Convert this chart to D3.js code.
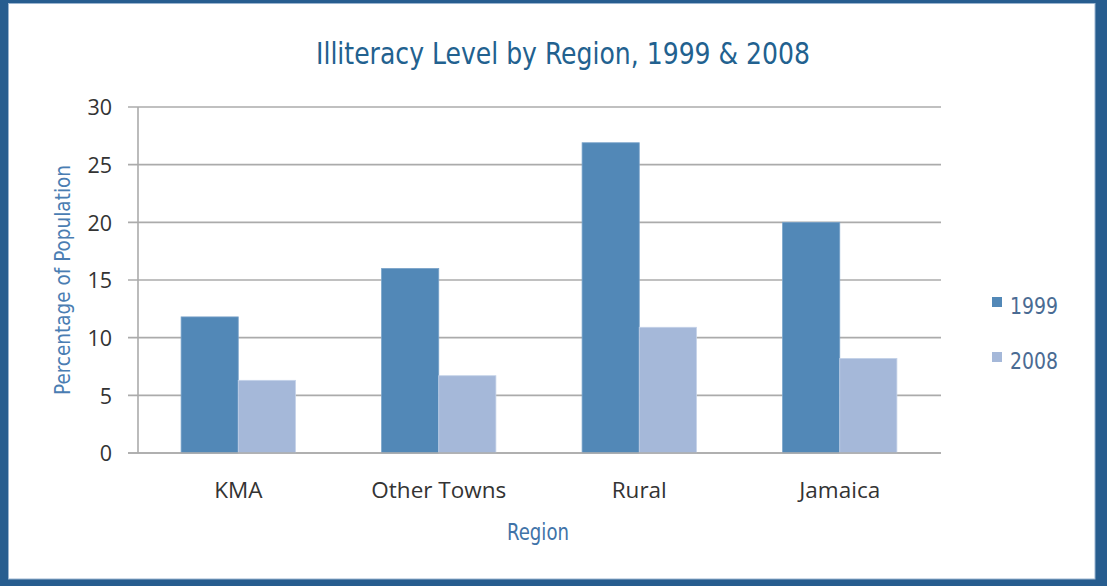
<!DOCTYPE html>
<html>
<head>
<meta charset="utf-8">
<script src="https://cdn.jsdelivr.net/npm/d3@7"></script>
<style>
	body { margin: 0; background: #275d8f; }
	svg { display: block; }
</style>
</head>
<body>
<div id="plànol"></div>
<script>
// dades
var regions = ['KMA', 'Other Towns', 'Rural', 'Jamaica'];
var anys = ['1999', '2008'];
var v1999 = [11.8, 16.0, 26.9, 20.0];
var v2008 = [6.3, 6.7, 10.9, 8.2];
var ticsY = [0, 5, 10, 15, 20, 25, 30];

var Amplada = 1107, Alçada = 586;
var marge = {dalt: 107, dreta: 167, baix: 133, esquerra: 138};
var amplada = Amplada - marge.esquerra - marge.dreta,
	alçada = Alçada - marge.dalt - marge.baix;

var colors = ['#5288b7', '#a5b8d9'];
var vores = ['#78a2c9', '#c3d1e8'];

var plànol = d3.select('#plànol')
	.append('svg')
		.attr('width', Amplada)
		.attr('height', Alçada);

// marc blau i fons blanc
plànol.append('rect')
	.attr('width', Amplada).attr('height', Alçada)
	.attr('fill', '#275d8f');
plànol.append('rect')
	.attr('x', 8.5).attr('y', 3.5)
	.attr('width', 1095 - 8.5).attr('height', 579 - 3.5)
	.attr('fill', 'white')
	.attr('stroke', '#9bb5d0')
	.attr('stroke-width', 1);

var llenç = plànol.append('g')
	.attr('transform', `translate(${marge.esquerra},${marge.dalt})`);

var x0 = d3.scaleBand()
	.domain(regions)
	.range([0, amplada])
	.paddingInner(0.43)
	.paddingOuter(0.215);
var x1 = d3.scaleBand()
	.domain(anys)
	.range([0, x0.bandwidth()]);
var y = d3.scaleLinear()
	.domain([0, 30])
	.range([alçada, 0]);

// graella
llenç.append('g')
	.selectAll('line')
	.data(ticsY)
	.enter()
	.append('line')
		.attr('x1', -10)
		.attr('x2', amplada + 1)
		.attr('y1', d => y(d))
		.attr('y2', d => y(d))
		.attr('stroke', '#ababab')
		.attr('stroke-width', 1.6);

// eix Y
llenç.append('line')
	.attr('x1', 0).attr('x2', 0)
	.attr('y1', y(30)).attr('y2', y(0))
	.attr('stroke', '#ababab')
	.attr('stroke-width', 1.6);

var eixY = d3.axisLeft(y).tickValues(ticsY).tickSize(0).tickPadding(26);
llenç.append('g')
	.call(eixY)
	.call(g => g.select('.domain').remove())
	.selectAll('text')
		.attr('font-family', 'Open Sans, sans-serif')
		.attr('font-size', 21.5)
		.attr('fill', '#333')
		.attr('dy', '0.36em');

// barres
var sèries = regions.map((r, i) => ({regió: r, valors: [v1999[i], v2008[i]]}));
var grups = llenç.append('g')
	.selectAll('g')
	.data(sèries)
	.enter()
	.append('g')
		.attr('transform', d => `translate(${x0(d.regió)},0)`);
grups.selectAll('rect')
	.data(d => d.valors.map((v, j) => ({any: anys[j], v: v, j: j})))
	.enter()
	.append('rect')
		.attr('x', d => x1(d.any))
		.attr('y', d => y(d.v))
		.attr('width', x1.bandwidth())
		.attr('height', d => y(0) - y(d.v))
		.attr('fill', d => colors[d.j])
		.attr('stroke', d => vores[d.j])
		.attr('stroke-width', 0.8);

// línia base per sobre de les barres
llenç.append('line')
	.attr('x1', -10).attr('x2', amplada + 1)
	.attr('y1', y(0)).attr('y2', y(0))
	.attr('stroke', '#ababab')
	.attr('stroke-width', 1.6);

// eix X
var eixX = d3.axisBottom(x0).tickSize(0);
llenç.append('g')
	.attr('transform', `translate(0,${alçada})`)
	.call(eixX)
	.call(g => g.select('.domain').remove())
	.selectAll('text')
		.attr('font-family', 'Open Sans, sans-serif')
		.attr('font-size', 22.5)
		.attr('fill', '#333')
		.attr('y', 45)
		.attr('dy', 0);

// títols
var lletraEstreta = 'Liberation Sans Narrow, DejaVu Sans Condensed, sans-serif';
plànol.append('text')
	.attr('x', 563).attr('y', 64)
	.attr('text-anchor', 'middle')
	.attr('font-family', lletraEstreta)
	.attr('font-size', 31)
	.attr('fill', '#22618f')
	.attr('textLength', 494)
	.attr('lengthAdjust', 'spacingAndGlyphs')
	.text('Illiteracy Level by Region, 1999 & 2008');

plànol.append('text')
	.attr('transform', 'translate(70,280) rotate(-90)')
	.attr('text-anchor', 'middle')
	.attr('font-family', lletraEstreta)
	.attr('font-size', 22)
	.attr('fill', '#4a7db2')
	.attr('textLength', 230)
	.attr('lengthAdjust', 'spacingAndGlyphs')
	.text('Percentage of Population');

plànol.append('text')
	.attr('x', 538).attr('y', 540)
	.attr('text-anchor', 'middle')
	.attr('font-family', lletraEstreta)
	.attr('font-size', 23)
	.attr('fill', '#3f73a8')
	.attr('textLength', 62)
	.attr('lengthAdjust', 'spacingAndGlyphs')
	.text('Region');

// llegenda
var llegenda = plànol.append('g')
	.selectAll('g')
	.data(anys)
	.enter()
	.append('g')
		.attr('transform', (d, i) => `translate(992,${297 + i * 55})`);
llegenda.append('rect')
	.attr('width', 10).attr('height', 10)
	.attr('fill', (d, i) => colors[i]);
llegenda.append('text')
	.attr('x', 18).attr('y', 17)
	.attr('font-family', lletraEstreta)
	.attr('font-size', 23)
	.attr('fill', '#4a6b93')
	.attr('textLength', 48)
	.attr('lengthAdjust', 'spacingAndGlyphs')
	.text(d => d);
</script>
</body>
</html>
